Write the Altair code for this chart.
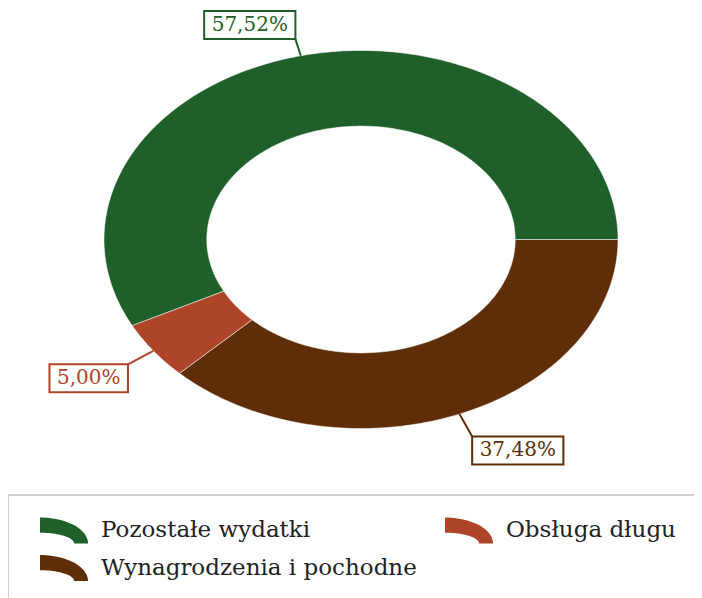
import math
import altair as alt
import pandas as pd

# ---- data ----
categories = ["Wynagrodzenia i pochodne", "Obsługa długu", "Pozostałe wydatki"]
values = [37.48, 5.00, 57.52]
slice_colors = ["#602e06", "#ae4528", "#1e5f2a"]
# legend fills column by column: col 1 = first two, col 2 = last
legend_order = ["Pozostałe wydatki", "Wynagrodzenia i pochodne", "Obsługa długu"]

# ---- layout ----
W, H = 686, 590
CX, CY = 353.0, 231.5
RX, RY = 257.0, 189.0
INNER = 0.6
START = 0.0          # degrees, clockwise from east
BOX_H = 28
FONT = "DejaVu Serif"
LABEL_SIZE = 20
CHAR_W = {",": 0.318, "%": 0.95}

x_dom = [-CX / RX, (W - CX) / RX]
y_dom = [-(H - CY) / RY, CY / RY]

color_of = dict(zip(categories, slice_colors))
cscale = alt.Scale(domain=legend_order, range=[color_of[c] for c in legend_order])

total = sum(values)
poly_rows, lab_rows = [], []
a = START
for cat, v in zip(categories, values):
    span = 360.0 * v / total
    a0 = a
    n = max(2, int(math.ceil(span)))
    pts = []
    for i in range(n + 1):
        t = math.radians(a0 + span * i / n)
        pts.append((math.cos(t), -math.sin(t)))
    for i in range(n, -1, -1):
        t = math.radians(a0 + span * i / n)
        pts.append((INNER * math.cos(t), -INNER * math.sin(t)))
    pts.append(pts[0])
    for j, (x, y) in enumerate(pts):
        poly_rows.append({"cat": cat, "ord": j, "x": x, "y": y})

    m = math.radians(a0 + span / 2)
    c, s = math.cos(m), math.sin(m)
    lead = 1.11 + 0.02 * s
    label = f"{v:.2f}".replace(".", ",") + "%"
    tw = sum(CHAR_W.get(ch, 0.636) for ch in label) * LABEL_SIZE
    bw = tw + 15
    p2x, p2y = lead * c, -lead * s
    if c < 0:
        bx0, bx1 = p2x - bw / RX, p2x
    else:
        bx0, bx1 = p2x, p2x + bw / RX
    if s < 0:
        by0, by1 = p2y, p2y + BOX_H / RY
    else:
        by0, by1 = p2y - BOX_H / RY, p2y
    lab_rows.append({
        "cat": cat, "label": label,
        "x1": c, "y1": -s, "x2": p2x, "y2": p2y,
        "bx0": bx0, "bx1": bx1, "by0": by0, "by1": by1,
        "tx": (bx0 + bx1) / 2, "ty": (by0 + by1) / 2,
    })
    a += span

df_poly = pd.DataFrame(poly_rows)
df_lab = pd.DataFrame(lab_rows)

xs = alt.Scale(domain=x_dom, nice=False, zero=False)
ys = alt.Scale(domain=y_dom, nice=False, zero=False)


# legend symbol: a quarter of an elliptical ring (unit square path)
def ring_quarter(orx=2.0, ory=1.083, irx=1.42, iry=0.45, steps=24):
    cx, cy = -1.0, 0.542
    p = []
    for i in range(steps + 1):
        t = math.radians(-90 + 90 * i / steps)
        p.append((cx + orx * math.cos(t), cy + ory * math.sin(t)))
    for i in range(steps, -1, -1):
        t = math.radians(-90 + 90 * i / steps)
        p.append((cx + irx * math.cos(t), cy + iry * math.sin(t)))
    return "M" + "L".join(f"{x:.3f},{y:.3f}" for x, y in p) + "Z"


SYMBOL = ring_quarter()
# invisible multi-line title on the right: makes the framed box run past the page edges
BLANK_TITLE = [" "] * 9

legend = alt.Legend(
    title=BLANK_TITLE, titleOrient="right", titleFontSize=20, titlePadding=60,
    titleLineHeight=20, titleBaseline="top",
    orient="none", legendX=0, legendY=487,
    columns=2, gridAlign="all",
    symbolType=SYMBOL, symbolSize=2304, symbolStrokeWidth=0,
    symbolOffset=21, labelOffset=13, rowPadding=-17, columnPadding=7,
    padding=11, strokeColor="#cfcfcf",
    labelFont=FONT, labelFontSize=23, labelColor="#222222", labelLimit=0,
)

slices = alt.Chart(df_poly).mark_line(
    stroke="white", strokeWidth=1, strokeOpacity=0.5
).encode(
    x=alt.X("x:Q", scale=xs, axis=None),
    y=alt.Y("y:Q", scale=ys, axis=None),
    fill=alt.Fill("cat:N", scale=cscale, legend=legend),
    detail="cat:N",
    order="ord:Q",
)

rules = alt.Chart(df_lab).mark_rule(strokeWidth=2).encode(
    x=alt.X("x1:Q", scale=xs, axis=None),
    y=alt.Y("y1:Q", scale=ys, axis=None),
    x2="x2:Q", y2="y2:Q",
    color=alt.Color("cat:N", scale=cscale, legend=None),
)

boxes = alt.Chart(df_lab).mark_rect(fill="white", strokeWidth=2).encode(
    x=alt.X("bx0:Q", scale=xs, axis=None),
    x2="bx1:Q",
    y=alt.Y("by0:Q", scale=ys, axis=None),
    y2="by1:Q",
    stroke=alt.Stroke("cat:N", scale=cscale, legend=None),
)

texts = alt.Chart(df_lab).mark_text(
    font=FONT, fontSize=LABEL_SIZE, align="center", baseline="middle"
).encode(
    x=alt.X("tx:Q", scale=xs, axis=None),
    y=alt.Y("ty:Q", scale=ys, axis=None),
    text="label:N",
    color=alt.Color("cat:N", scale=cscale, legend=None),
)

chart = alt.layer(slices, rules, boxes, texts).properties(
    width=W, height=H, padding=0,
    autosize=alt.AutoSizeParams(type="none"),
).configure_view(strokeWidth=0).configure_legend(strokeWidth=2)

chart.save("out.html", embed_options={"renderer": "svg", "actions": False})
